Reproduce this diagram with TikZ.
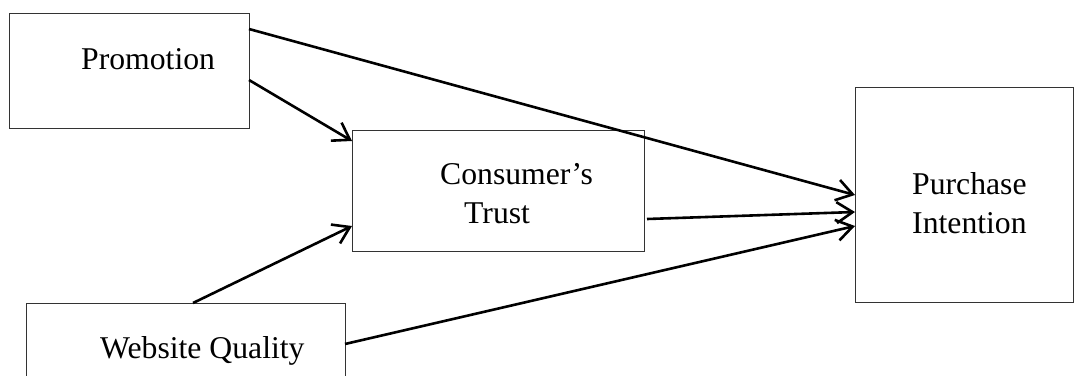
\documentclass[tikz,border=0pt]{standalone}
\usepackage{fontspec}
\setmainfont{Liberation Serif}
\usetikzlibrary{arrows.meta}
\begin{document}
\begin{tikzpicture}[x=1pt,y=-1pt,
  box/.style={draw=black!80,line width=1pt,rectangle,inner sep=0pt,outer sep=0pt,anchor=north west},
  lbl/.style={anchor=base west,inner sep=0pt,font=\fontsize{31.7}{38}\selectfont},
  arr/.style={line width=2.6pt,-{Straight Barb[length=16pt,width=21pt]}}]
\useasboundingbox (0,0) rectangle (1074,375);
\clip (0,0) rectangle (1074,375);
\node[box,minimum width=240pt,minimum height=115pt] (promo) at (9,13) {};
\node[box,minimum width=292pt,minimum height=121pt] (trust) at (352,130) {};
\node[box,minimum width=319pt,minimum height=130pt] (web) at (26,303) {};
\node[box,minimum width=218pt,minimum height=215pt] (purch) at (855,87) {};
\node[lbl] (tpromo) at (81,69) {Promotion};
\node[lbl] (ttrust1) at (440,184) {Consumer’s};
\node[lbl] (ttrust2) at (464,223) {Trust};
\node[lbl] (tpurch1) at (912,194) {Purchase};
\node[lbl] (tpurch2) at (912,233) {Intention};
\node[lbl] (tweb) at (100,358) {Website Quality};
\draw[arr] ([yshift=-16pt]promo.north east) -- ([yshift=-108pt]purch.north west);
\draw[arr] ([yshift=-67pt]promo.north east) -- ([yshift=-11pt]trust.north west);
\draw[arr] ([xshift=167pt]web.north west) -- ([yshift=-96pt]trust.north west);
\draw[arr] ([xshift=3pt,yshift=-89pt]trust.north east) -- ([yshift=-125pt]purch.north west);
\draw[arr] ([yshift=-41pt]web.north east) -- ([yshift=-139pt]purch.north west);
\end{tikzpicture}
\end{document}
